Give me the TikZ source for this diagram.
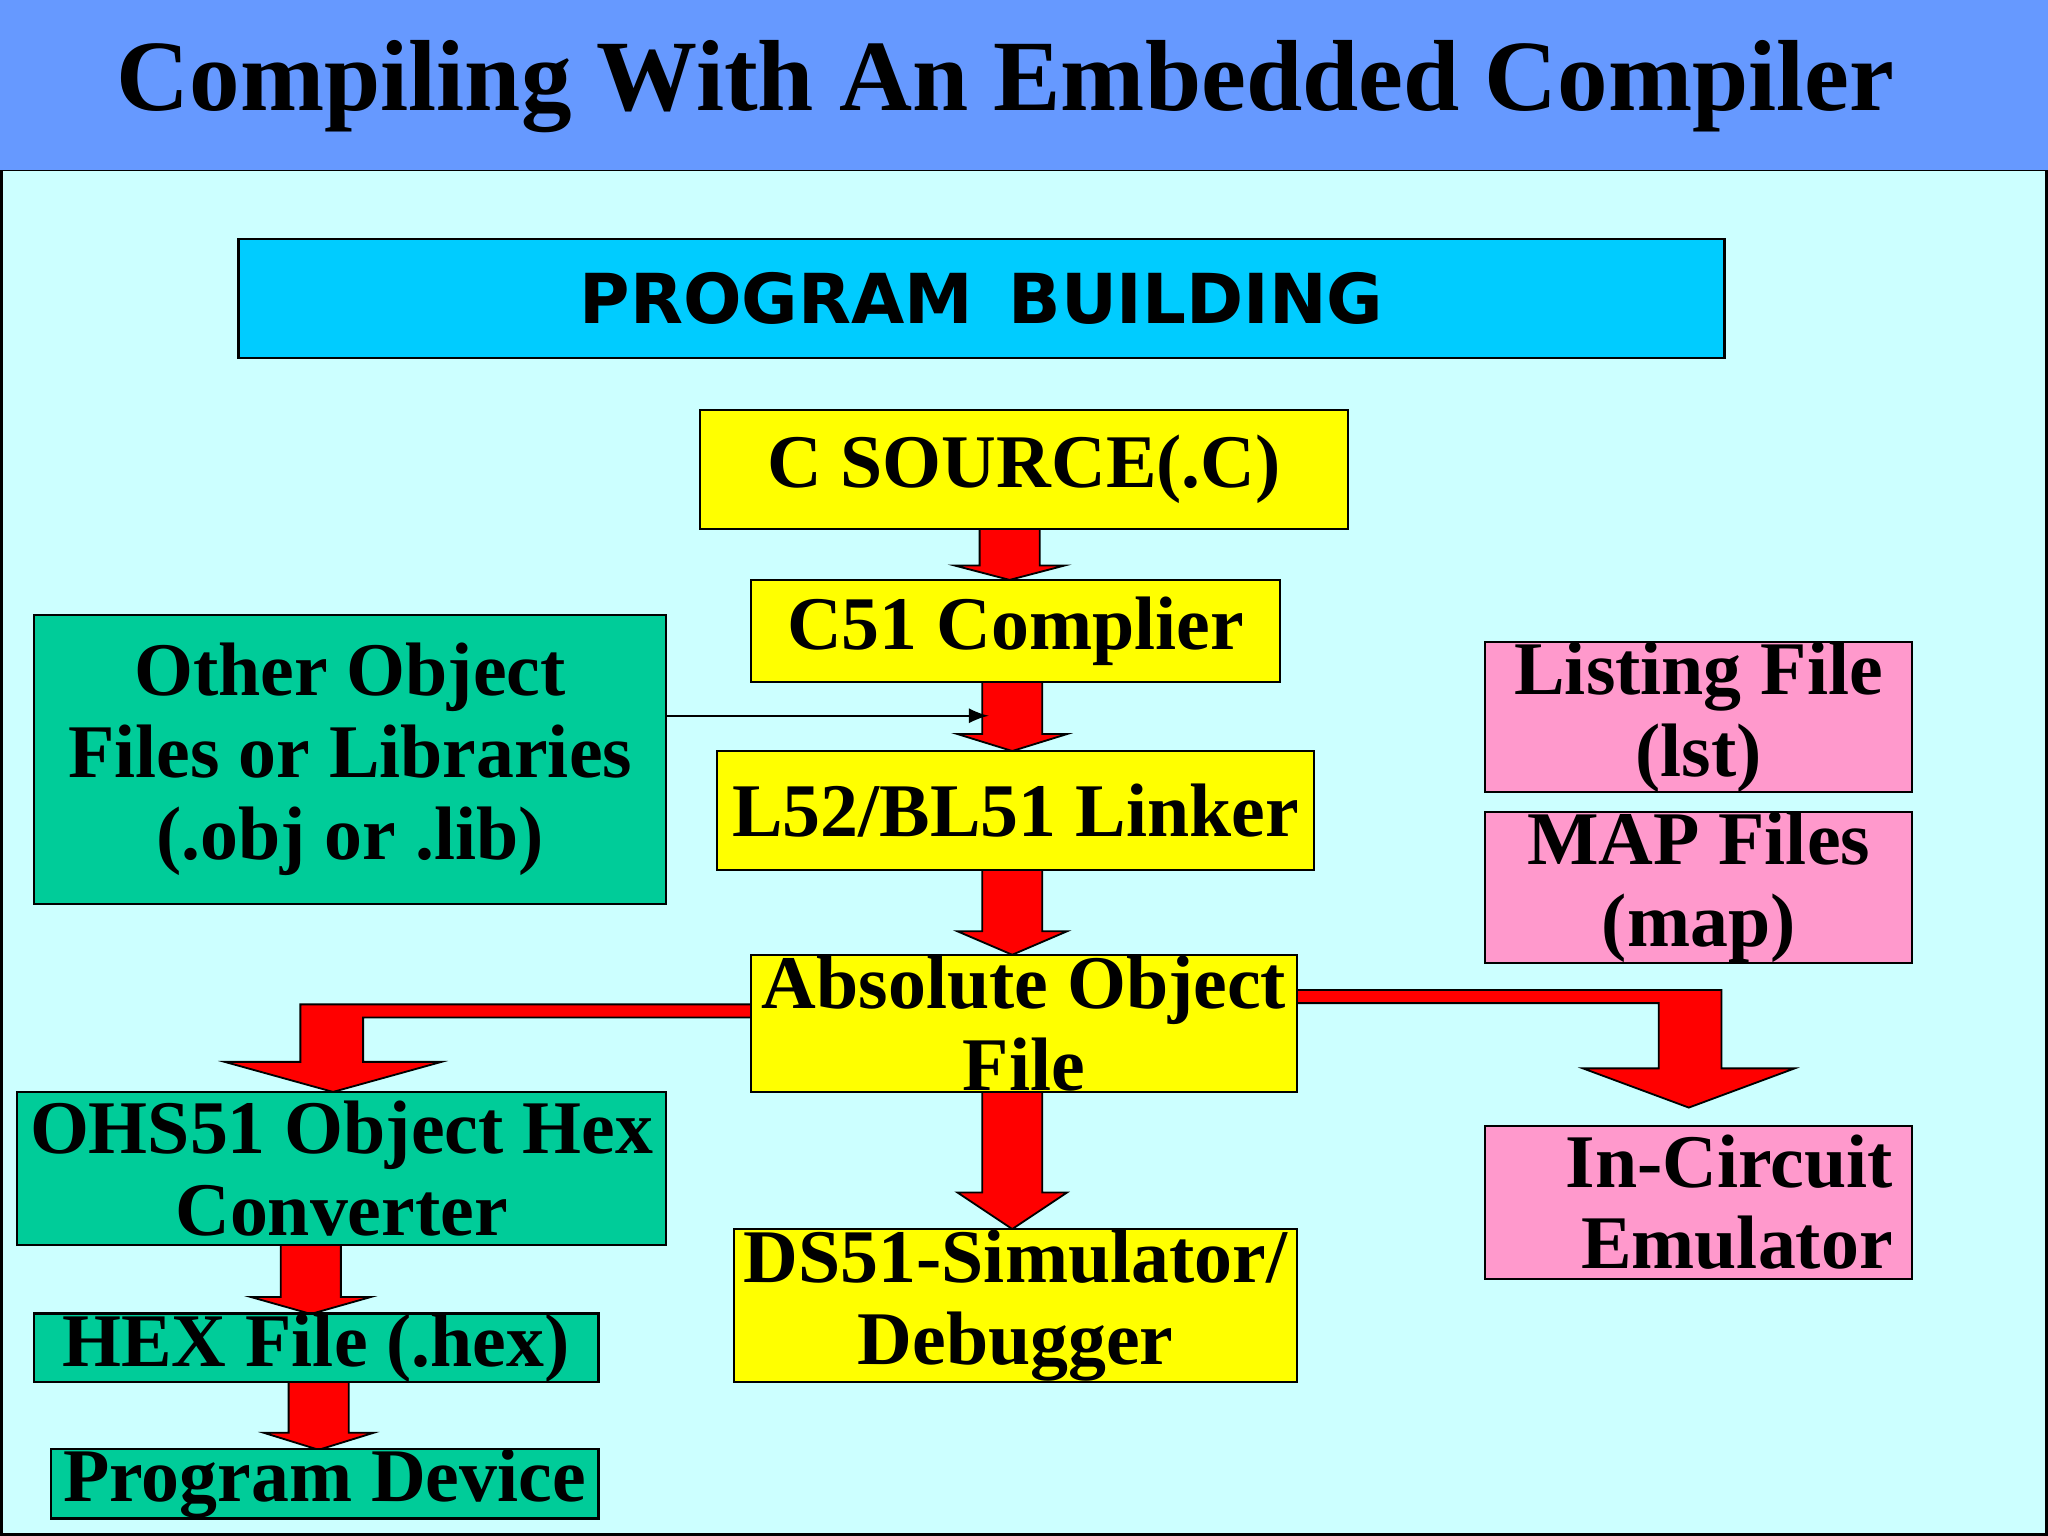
\documentclass[tikz,border=0pt]{standalone}
\usepackage{fontspec}
\setmainfont{Liberation Serif}
\newfontfamily\pbfont{DejaVu Sans}
\definecolor{titlebg}{HTML}{6699FF}
\definecolor{pagebg}{HTML}{CCFFFF}
\definecolor{pbblue}{HTML}{00CCFF}
\definecolor{boxyel}{HTML}{FFFF00}
\definecolor{boxgrn}{HTML}{00CC99}
\definecolor{boxpink}{HTML}{FF99CC}
\definecolor{arrred}{HTML}{FF0000}
\tikzset{
  bx/.style={draw=black, line width=0.5pt, inner sep=0pt, align=center,
    font=\bfseries\fontsize{16.5}{17.8}\selectfont},
  yel/.style={bx, fill=boxyel},
  grn/.style={bx, fill=boxgrn},
  pnk/.style={bx, fill=boxpink},
  blk/.style={fill=arrred, draw=black, line width=0.4pt},
}
\newcommand{\dnarrow}[5]{% x, y0, yhead, y1, headhalf
  \draw[blk] (#1-23,#2)--(#1+23,#2)--(#1+23,#3)--(#1+#5,#3)--(#1,#4)--(#1-#5,#3)--(#1-23,#3)--cycle;}
\begin{document}
\begin{tikzpicture}[x=0.01cm,y=-0.01cm]
\useasboundingbox (0,0) rectangle (1568,1176);
\fill[pagebg] (0,0) rectangle (1568,1176);
\draw[black, line width=0.6pt] (1,130) rectangle (1567,1175);
\fill[titlebg] (0,0) rectangle (1568,130);
\node[font=\bfseries\fontsize{22}{24}\selectfont] (title) at (770,66) {Compiling With An Embedded Compiler};

% block arrows
\dnarrow{773}{405}{433}{444}{42}
\dnarrow{775}{522}{562}{575}{42}
\dnarrow{775}{666}{713}{731}{42}
\dnarrow{775}{836}{913}{941}{42}
\dnarrow{238}{953}{993}{1006}{46}
\dnarrow{244}{1058}{1097}{1110}{42}
\draw[blk] (575,769)--(230,769)--(230,813)--(172,813)--(255,836)--(338,813)--(278,813)--(278,779)--(575,779)--cycle;
\draw[blk] (993,758)--(1318,758)--(1318,818)--(1374,818)--(1293,848)--(1212,818)--(1270,818)--(1270,768)--(993,768)--cycle;

\node[bx, fill=pbblue, minimum width=11.37cm, minimum height=0.91cm, font=\pbfont\bfseries\fontsize{15}{17}\selectfont] (pb) at (751.5,228.5) {PROGRAM\, BUILDING};
\node[yel, minimum width=4.96cm, minimum height=0.91cm] (cs) at (784,359.5) {C SOURCE(.C)};
\node[yel, minimum width=4.05cm, minimum height=0.78cm] (c51) at (777.5,483) {C51 Complier};
\node[yel, minimum width=4.57cm, minimum height=0.91cm] (lnk) at (777.5,620.5) {L52/BL51 Linker};
\node[grn, minimum width=4.84cm, minimum height=2.21cm] (oth) at (268,581.5) {Other Object\\Files or Libraries\\(.obj or .lib)};
\node[pnk, minimum width=3.27cm, minimum height=1.04cm] (lst) at (1300.5,549) {Listing File\\(lst)};
\node[pnk, minimum width=3.27cm, minimum height=1.05cm] (map) at (1300.5,679.5) {MAP Files\\(map)};
\node[grn, minimum width=4.97cm, minimum height=1.17cm] (ohs) at (261.5,894.5) {OHS51 Object Hex\\Converter};
\node[grn, minimum width=4.32cm, minimum height=0.52cm] (hex) at (242,1032) {HEX File (.hex)};
\node[grn, minimum width=4.19cm, minimum height=0.52cm] (pd) at (248.5,1136) {Program Device};
\node[yel, minimum width=4.31cm, minimum height=1.17cm] (ds) at (777.5,999.5) {DS51-Simulator/\\Debugger};
\node[pnk, minimum width=3.27cm, minimum height=1.17cm, align=right, text width=2.97cm] (ice) at (1300.5,920.5) {In-Circuit\\Emulator};
\node[yel, minimum width=4.18cm, minimum height=1.05cm] (abs) at (784,783.5) {Absolute Object\\File};

\coordinate (tip) at (757,548);
\draw[-latex, line width=0.5pt] (oth.east |- tip) -- (tip);
\end{tikzpicture}
\end{document}
